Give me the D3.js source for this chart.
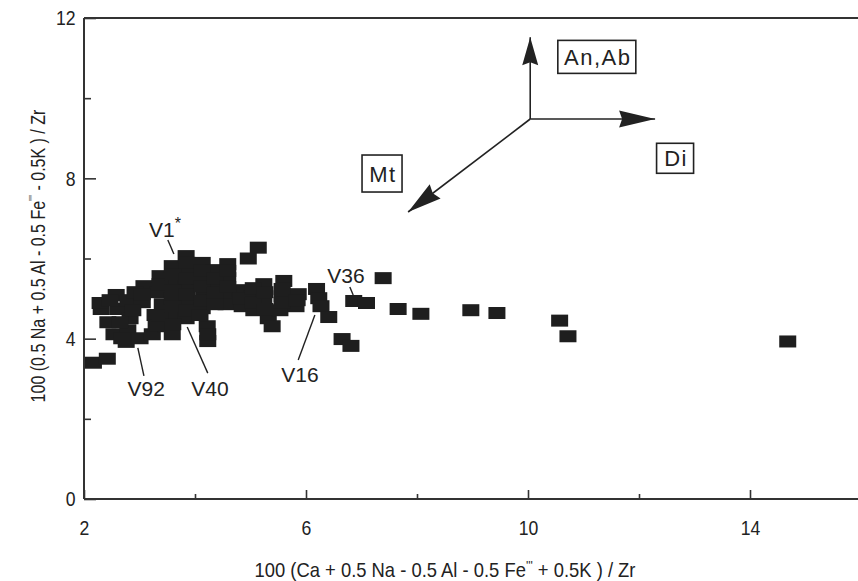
<!DOCTYPE html>
<html><head><meta charset="utf-8">
<script src="https://cdn.jsdelivr.net/npm/d3@7"></script>
<style>body{margin:0;background:#fff}svg{display:block}</style>
</head><body><svg id="c" width="858" height="581"></svg>
<script>
// ---- data ----
const xTicksMajor = [2, 6, 10, 14];
const xTicksMinor = [4, 8, 12];
const yTicksMajor = [0, 4, 8, 12];
const yTicksMinor = [2, 6, 10];

const pointX = [2.31,2.43,2.54,2.76,2.58,2.61,2.79,2.83,2.79,3.08,3.05,3.28,3.01,3.23,3.37,3.33,3.41,3.48,
  3.59,3.62,3.59,3.64,3.59,3.84,3.87,3.84,3.87,3.84,4.13,4.09,4.16,4.13,4.22,4.23,4.34,4.38,4.34,4.59,4.59,
  4.63,4.56,4.81,4.85,5.03,5.06,5.24,5.24,5.32,5.39,5.60,5.57,5.53,5.86,5.82,6.19,6.23,6.27,6.41,6.65,6.81,
  5.14,4.96,2.17,2.42,7.39,6.86,7.09,7.66,8.07,8.97,9.44,10.57,10.72,14.68,
  2.29,2.47,2.65,2.68,2.92,2.88,3.05,3.30,3.37,3.37,3.60,3.60,3.60,3.60,3.86,3.86,3.86,3.86,
  4.13,4.13,4.13,4.09,4.23,4.36,4.36,4.36,4.59,4.59,4.83,5.05,5.05,5.26,5.26,5.57,5.57,5.84];
const pointY = [4.74,4.41,4.11,3.92,5.09,4.74,4.96,4.51,4.21,5.31,4.91,4.59,4.01,4.11,5.56,5.16,4.86,4.31,
  5.81,5.41,5.01,4.61,4.11,6.06,5.71,5.31,4.91,4.51,5.89,5.51,5.11,4.76,4.31,3.94,5.71,5.34,4.96,5.86,5.51,
  5.06,4.86,5.21,4.81,5.06,4.71,5.36,4.96,4.51,4.31,5.44,5.06,4.71,5.11,4.81,5.24,5.01,4.81,4.54,3.99,3.82,
  6.27,6.00,3.40,3.50,5.51,4.94,4.89,4.74,4.62,4.71,4.64,4.45,4.06,3.93,
  4.89,4.96,4.41,4.01,5.16,4.71,5.11,4.34,5.36,4.59,5.61,5.21,4.81,4.36,5.89,5.51,5.11,4.71,
  5.69,5.31,4.94,4.59,4.11,5.51,5.16,4.86,5.69,5.29,5.01,5.26,4.89,5.16,4.74,5.24,4.89,4.96];

const sampleNames = ["V1", "V92", "V40", "V16", "V36"];
const sampleTextX = [3.46, 3.12, 4.27, 5.89, 6.72];
const sampleTextY = [6.53, 2.57, 2.57, 2.92, 5.39];
const leaderX1 = [3.51, 2.97, 3.86, 6.16, 6.79];
const leaderY1 = [6.46, 3.77, 4.29, 4.59, 5.29];
const leaderX2 = [3.62, 3.08, 4.23, 5.86, 6.85];
const leaderY2 = [6.11, 3.07, 3.14, 3.47, 5.09];

const arrowOrigin = [10.04, 9.48];
const arrowTipX = [10.04, 12.29, 7.84];
const arrowTipY = [11.52, 9.48, 7.16];

const boxLabels = ["An,Ab", "Mt", "Di"];
const boxX = [11.24, 7.37, 12.65];
const boxY = [11.03, 8.12, 8.50];

const xTitle = ["100 (Ca + 0.5 Na - 0.5 Al - 0.5 Fe", "'''", " + 0.5K ) / Zr"];
const yTitle = ["100 (0.5 Na + 0.5 Al - 0.5 Fe", "'''", " - 0.5K ) / Zr"];

// ---- layout ----
const svg = d3.select("#c");
const L = 84, T = 18, B = 499;
const x = d3.scaleLinear().domain([2, 14]).range([L, 750]);
const y = d3.scaleLinear().domain([0, 12]).range([B, T]);
const ink = "#222";
const font = "'Liberation Sans',Arial,sans-serif";

function styleAxis(g) {
  g.select(".domain").remove();
  g.selectAll(".tick line").attr("stroke", "#333").attr("stroke-width", 1.6);
  g.selectAll(".tick text").attr("fill", ink).style("font-family", font).style("font-size", "21px")
    .attr("transform", `scale(0.84,1)`);
}
svg.append("g").attr("transform", `translate(0,${B})`)
  .call(d3.axisBottom(x).tickValues(xTicksMajor).tickSize(-9).tickPadding(21).tickFormat(d3.format("d")))
  .call(styleAxis);
svg.append("g").attr("transform", `translate(0,${B})`)
  .call(d3.axisBottom(x).tickValues(xTicksMinor).tickSize(-5).tickFormat(""))
  .call(styleAxis);
svg.append("g").attr("transform", `translate(${L},0)`)
  .call(d3.axisLeft(y).tickValues(yTicksMajor).tickSize(-12).tickPadding(10).tickFormat(d3.format("d")))
  .call(styleAxis);
svg.append("g").attr("transform", `translate(${L},0)`)
  .call(d3.axisLeft(y).tickValues(yTicksMinor).tickSize(-7).tickFormat(""))
  .call(styleAxis);

// frame
const frame = svg.append("g").attr("stroke", "#333").attr("stroke-width", 2).attr("fill", "none");
frame.append("line").attr("x1", L).attr("x2", L).attr("y1", T).attr("y2", B);
frame.append("line").attr("x1", L).attr("x2", 858).attr("y1", B).attr("y2", B);
frame.append("line").attr("x1", L).attr("x2", 858).attr("y1", T).attr("y2", T);

// points
const pts = pointX.map((v, i) => ({x: v, y: pointY[i]}));
svg.append("g").selectAll("rect").data(pts).join("rect")
  .attr("x", d => x(d.x) - 8.5).attr("y", d => y(d.y) - 6)
  .attr("width", 17).attr("height", 12).attr("fill", "#1e1e1e");

// sample labels
const lab = svg.append("g");
sampleNames.forEach((n, i) => {
  lab.append("line").attr("x1", x(leaderX1[i])).attr("y1", y(leaderY1[i]))
    .attr("x2", x(leaderX2[i])).attr("y2", y(leaderY2[i]))
    .attr("stroke", ink).attr("stroke-width", 1.4);
  const t = lab.append("text").attr("x", x(sampleTextX[i])).attr("y", y(sampleTextY[i]))
    .attr("text-anchor", "middle").attr("fill", ink)
    .style("font-family", font).style("font-size", "21px").text(n);
  if (i === 0) t.append("tspan").attr("dy", -8).style("font-size", "16px").text("*");
});

// arrows
const ar = svg.append("g");
const ox = x(arrowOrigin[0]), oy = y(arrowOrigin[1]);
const headLen = [28, 36, 34], headHalf = [8, 8.5, 9];
arrowTipX.forEach((tx, i) => {
  const px = x(tx), py = y(arrowTipY[i]);
  ar.append("line").attr("x1", ox).attr("y1", oy).attr("x2", px).attr("y2", py)
    .attr("stroke", ink).attr("stroke-width", 1.6);
  const dx = px - ox, dy = py - oy, len = Math.hypot(dx, dy);
  const ux = dx / len, uy = dy / len;
  const bx = px - ux * headLen[i], by = py - uy * headLen[i];
  const nx = -uy * headHalf[i], ny = ux * headHalf[i];
  ar.append("path").attr("d", `M${px},${py}L${bx + nx},${by + ny}L${bx + ux*3},${by + uy*3}L${bx - nx},${by - ny}Z`)
    .attr("fill", ink);
});

// boxes
const boxW = [78, 40, 37], boxH = [33, 37, 30];
boxLabels.forEach((s, i) => {
  const cx = x(boxX[i]), cy = y(boxY[i]);
  svg.append("rect").attr("x", cx - boxW[i]/2).attr("y", cy - boxH[i]/2)
    .attr("width", boxW[i]).attr("height", boxH[i])
    .attr("fill", "none").attr("stroke", ink).attr("stroke-width", 1.6);
  svg.append("text").attr("x", cx + 1).attr("y", cy + 8).attr("text-anchor", "middle")
    .attr("fill", ink).style("font-family", font).style("font-size", "22px")
    .style("letter-spacing", "1.5px").text(s);
});

// axis titles (horizontally condensed like the original narrow face)
function title(parts, transform) {
  const t = svg.append("text").attr("transform", transform).attr("text-anchor", "middle")
    .attr("fill", ink).style("font-family", font).style("font-size", "20px");
  t.append("tspan").text(parts[0]);
  t.append("tspan").attr("dy", -7).style("font-size", "13px").text(parts[1]);
  t.append("tspan").attr("dy", 7).text(parts[2]);
  return t;
}
title(xTitle, "translate(445,577) scale(0.92,1)");
title(yTitle, "translate(45,256) rotate(-90) scale(0.8,1)");
</script></body></html>
